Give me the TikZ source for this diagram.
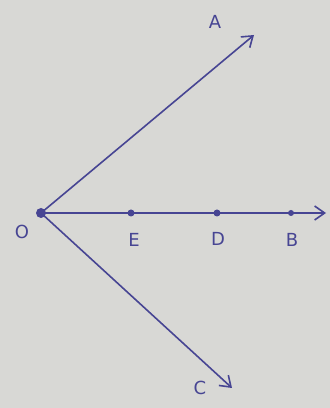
\documentclass[tikz,border=0pt]{standalone}
\usepackage{fontspec}
\setmainfont{DejaVu Sans}
\usetikzlibrary{arrows.meta}
\definecolor{paper}{HTML}{D8D8D5}
\definecolor{ink}{HTML}{474593}
\tikzset{
  ray/.style={draw=ink, line width=1.6pt, -{Straight Barb[length=10pt,width=14pt]}},
  pt/.style={circle, fill=ink, inner sep=0pt, minimum size=7pt},
  lbl/.style={text=ink, font=\fontsize{18}{18}\selectfont}
}
\begin{document}
\begin{tikzpicture}[x=1pt,y=1pt]
\fill[paper] (0,0) rectangle (330,408);
\useasboundingbox (0,0) rectangle (330,408);
\node[pt, minimum size=10pt] (O) at (41,195) {};
\node[pt] (E) at (131,195) {};
\node[pt] (D) at (217,195) {};
\node[pt, minimum size=6pt] (Bd) at (291,195) {};
\coordinate (A) at (254,373);
\coordinate (C) at (232,20);
\coordinate (Bend) at (326,195);
\draw[ray] (O.center) -- (A);
\draw[ray] (O.center) -- (C);
\draw[ray] (O.center) -- (Bend);
\node[lbl] (lO) at (22,176) {O};
\node[lbl] (lE) at (134,168) {E};
\node[lbl] (lD) at (218,169) {D};
\node[lbl] (lB) at (292,168) {B};
\node[lbl] (lA) at (215,386) {A};
\node[lbl] (lC) at (200,20) {C};
\end{tikzpicture}
\end{document}
